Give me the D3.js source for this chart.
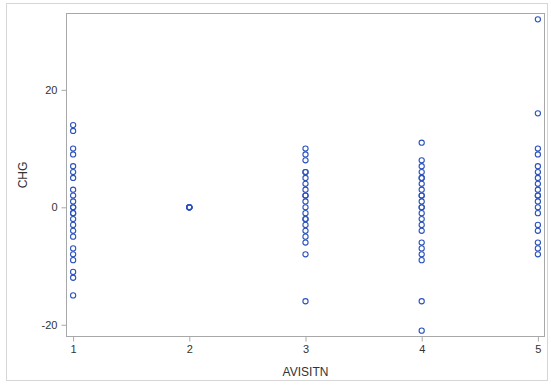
<!DOCTYPE html>
<html>
<head>
<meta charset="utf-8">
<script src="https://cdn.jsdelivr.net/npm/d3@7"></script>
<style>
  body { margin: 0; background: #fff; }
  text { font-family: "Liberation Sans", Arial, sans-serif; }
</style>
</head>
<body>
<div id="chart"></div>
<script>
// visit number and change-from-baseline values
const visits = [1, 2, 3, 4, 5];
const chgVisit1 = [14, 13, 10, 9, 7, 6, 5, 3, 2, 1, 0, 0, -1, -1, -2, -3, -4, -5, -7, -8, -9, -11, -12, -15];
const chgVisit2 = [0, 0, 0, 0, 0];
const chgVisit3 = [10, 9, 8, 6, 6, 5, 4, 3, 2, 2, 1, 0, -1, -2, -2, -3, -4, -5, -6, -8, -16];
const chgVisit4 = [11, 8, 7, 6, 5, 5, 4, 3, 2, 2, 1, 0, 0, -1, -2, -3, -4, -6, -7, -8, -9, -16, -21];
const chgVisit5 = [32, 16, 10, 9, 7, 6, 5, 4, 3, 2, 2, 1, 0, -1, -3, -4, -6, -7, -8];
const yTicks = [-20, 0, 20];

const series = [chgVisit1, chgVisit2, chgVisit3, chgVisit4, chgVisit5];
const points = [];
series.forEach((vals, i) => vals.forEach(v => points.push({ x: visits[i], y: v })));

const width = 551, height = 385;
const margin = { left: 66.5, right: 6.5, top: 13.5, bottom: 48.5 };

const svg = d3.select('#chart').append('svg')
  .attr('width', width).attr('height', height);

// outer border
svg.append('rect')
  .attr('x', 6.5).attr('y', 3.5)
  .attr('width', 541).attr('height', 377)
  .attr('fill', 'none').attr('stroke', '#d6d6d6');

const x = d3.scaleLinear().domain([0.943, 5.057])
  .range([margin.left, width - margin.right]);
const y = d3.scaleLinear().domain([-22, 33])
  .range([height - margin.bottom, margin.top]);

// plot frame
svg.append('rect')
  .attr('x', margin.left).attr('y', margin.top)
  .attr('width', width - margin.right - margin.left)
  .attr('height', height - margin.bottom - margin.top)
  .attr('fill', 'none').attr('stroke', '#a8a8a8');

const xAxis = svg.append('g')
  .attr('transform', `translate(0,${height - margin.bottom})`)
  .call(d3.axisBottom(x).tickValues(visits).tickFormat(d => String(d)).tickSize(5).tickPadding(4));
const yAxis = svg.append('g')
  .attr('transform', `translate(${margin.left},0)`)
  .call(d3.axisLeft(y).tickValues(yTicks).tickFormat(d => String(d)).tickSize(5).tickPadding(4));

[xAxis, yAxis].forEach(g => {
  g.select('.domain').remove();
  g.selectAll('line').attr('stroke', '#a8a8a8');
  g.selectAll('text').attr('fill', '#333').style('font-size', '11px')
    .style('font-family', '"Liberation Sans", Arial, sans-serif');
});

svg.append('text')
  .attr('x', (margin.left + width - margin.right) / 2).attr('y', 376)
  .attr('text-anchor', 'middle').attr('fill', '#333').style('font-size', '12px')
  .text('AVISITN');
svg.append('text')
  .attr('transform', `translate(27,${(margin.top + height - margin.bottom) / 2}) rotate(-90)`)
  .attr('text-anchor', 'middle').attr('fill', '#333').style('font-size', '12px')
  .text('CHG');

svg.append('g').selectAll('circle').data(points).enter()
  .append('circle')
  .attr('cx', d => x(d.x))
  .attr('cy', d => y(d.y))
  .attr('r', 2.6)
  .attr('fill', 'none')
  .attr('stroke', '#2a52be')
  .attr('stroke-width', 1.1);
</script>
</body>
</html>
